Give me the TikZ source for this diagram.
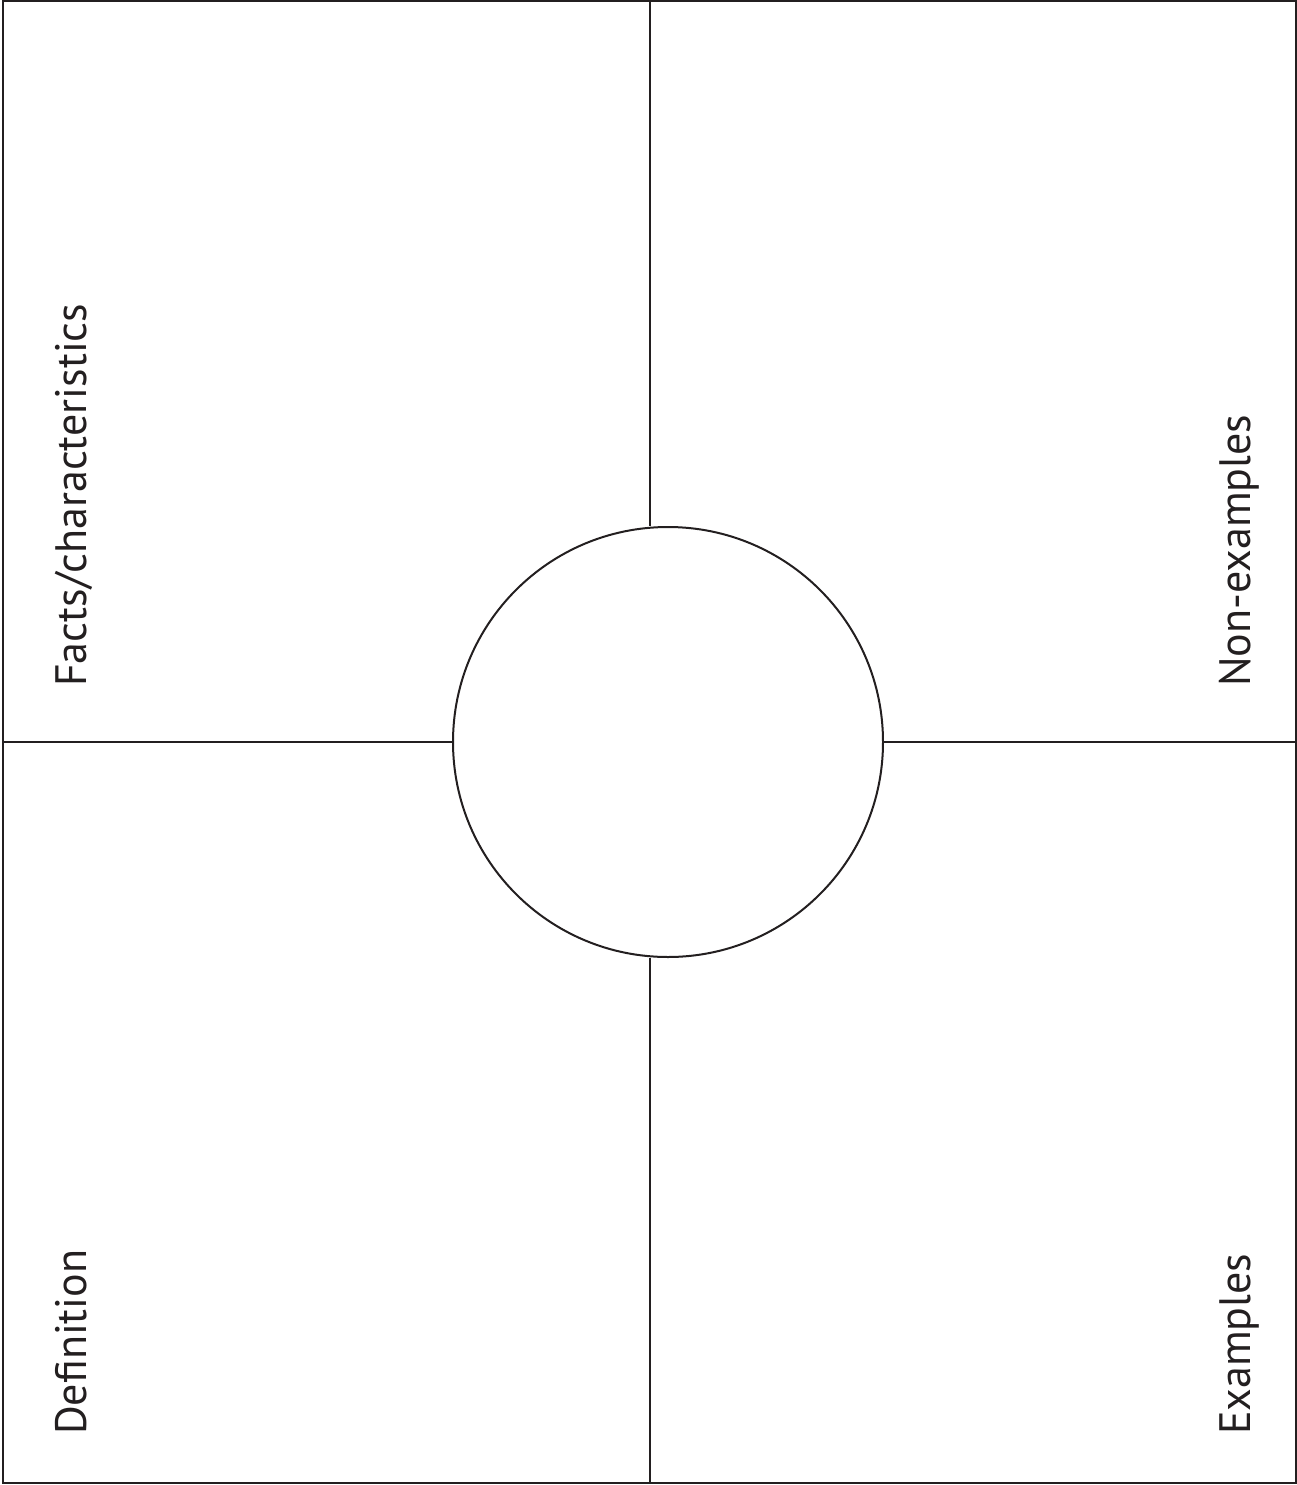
\documentclass[tikz,border=0pt]{standalone}
\usepackage{fontspec}
\setmainfont{PT Sans}
\usetikzlibrary{positioning, calc}
\definecolor{ink}{RGB}{35,31,32}
\tikzset{
  frame/.style={draw=ink, line width=2.4pt},
  divider/.style={draw=ink, line width=2.2pt},
  hub/.style={circle, draw=ink, line width=2pt, minimum size=430pt, inner sep=0pt},
  tag/.style={rotate=90, anchor=base west, inner sep=0pt, text=ink, font=\fontsize{44}{53}\selectfont},
}

\begin{document}
\begin{tikzpicture}[x=1pt, y=-1pt]
  \useasboundingbox (0,0) rectangle (1297,1485);
  % Frame
  \def\xl{3}
  \def\xr{1296}
  \def\yt{1}
  \def\yb{1483}
  \def\xm{650}
  \def\ym{742}
  \draw[frame] (\xl,\yt) rectangle (\xr,\yb);

  % Centre circle
  \node[hub] (hub) at (668,\ym) {};

  % Divider ends on the frame
  \coordinate (top) at (\xm,\yt);
  \coordinate (bot) at (\xm,\yb);
  \coordinate (lft) at (\xl,\ym);
  \coordinate (rgt) at (\xr,\ym);
  \draw[divider] (top) -- (top |- hub.north);
  \draw[divider] (bot) -- (bot |- hub.south);
  \draw[divider] (lft) -- (hub.west);
  \draw[divider] (hub.east) -- (rgt);

  % Labels
  \node[tag] (facts) at (86,687) {Facts/characteristics};
  \node[tag] (nonex) at (1250,687) {Non-examples};
  \node[tag] (defn) at (86,1435) {Definition};
  \node[tag] (exmp) at (1250,1435) {Examples};
\end{tikzpicture}
\end{document}
